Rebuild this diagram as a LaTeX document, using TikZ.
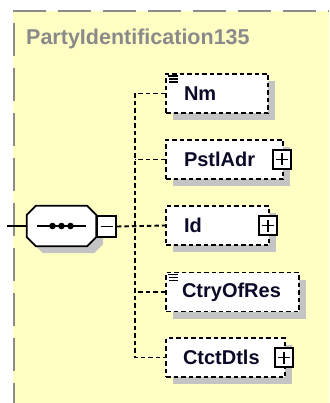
\documentclass[tikz,border=0pt]{standalone}
\usepackage{fontspec}
\setmainfont{Liberation Sans}
\usetikzlibrary{calc,shadows}
\definecolor{bgyellow}{HTML}{FFFFC4}
\definecolor{bordergray}{HTML}{8C8C8C}
\definecolor{titlegray}{HTML}{8A8A8A}
\definecolor{shadowgray}{HTML}{C4C4C4}
\definecolor{ink}{HTML}{0A0A28}
\begin{document}
\begin{tikzpicture}[x=1pt,y=-1pt,
  elemfont/.style={font=\fontsize{20}{22}\selectfont\bfseries},
  titlefont/.style={font=\fontsize{21.5}{24}\selectfont\bfseries},
  elem/.style={draw=black, fill=white, line width=1.9pt, dash pattern=on 4.5pt off 3pt,
    minimum height=39pt, inner xsep=18pt, inner ysep=0pt, align=left, text=ink, elemfont,
    drop shadow={shadow xshift=7pt,shadow yshift=-7pt,opacity=1,fill=shadowgray,draw=none}},
  conn/.style={draw=black, line width=1.9pt, dash pattern=on 4.5pt off 3pt},
  iconbox/.style={draw=black, fill=white, line width=1.8pt, solid, inner sep=0pt,
    minimum width=18pt, minimum height=19pt},
  iconline/.style={draw=black, line width=1.8pt},
  octagon/.style 2 args={insert path={
    ($(#1.north west)+(9,0)+(#2)$) -- ($(#1.north east)+(-9,0)+(#2)$) --
    ($(#1.north east)+(0,9)+(#2)$) -- ($(#1.south east)+(0,-9)+(#2)$) --
    ($(#1.south east)+(-9,0)+(#2)$) -- ($(#1.south west)+(9,0)+(#2)$) --
    ($(#1.south west)+(0,-9)+(#2)$) -- ($(#1.north west)+(0,9)+(#2)$) -- cycle}},
  listmark/.style={draw=black, line width=1.4pt}
]
\useasboundingbox (0,0) rectangle (329,403);
% background
\fill[bgyellow] (13,11) rectangle (329,403);
\draw[bordergray, line width=2.2pt, dash pattern=on 33pt off 12pt] (13,11) -- (329,11);
\draw[bordergray, line width=2.2pt, dash pattern=on 33pt off 12pt, dash phase=-12pt] (14,11) -- (14,403);
\node[anchor=base west, text=titlegray, titlefont, inner sep=0pt] (title) at (26,45) {PartyIdentification135};

% elements
\node[elem, text width=66pt] (nm) at (217,93.5) {Nm};
\node[elem, text width=81pt] (pstl) at (224.5,159.5) {PstlAdr};
\node[elem, text width=67pt] (id) at (217.5,225.5) {Id};
\node[elem, text width=101pt, inner xsep=16pt] (ctry) at (232.5,292) {CtryOfRes};
\node[elem, text width=85pt, inner xsep=17pt] (ctct) at (225.5,357.5) {CtctDtls};

% list marks
\draw[listmark] ([shift={(3,3)}]nm.north west) -- ++(10,0)
  ([shift={(4,6)}]nm.north west) -- ++(9,0)
  ([shift={(4,9)}]nm.north west) -- ++(9,0);
\draw[listmark] ([shift={(3,3)}]ctry.north west) -- ++(10,0)
  ([shift={(4,6)}]ctry.north west) -- ++(9,0)
  ([shift={(4,9)}]ctry.north west) -- ++(9,0);

% expand icons
\node[iconbox] (pstlplus) at ([xshift=-2pt]pstl.east) {};
\node[iconbox] (idplus) at ([xshift=-2pt]id.east) {};
\node[iconbox] (ctctplus) at ([xshift=-2pt]ctct.east) {};
\foreach \n in {pstlplus,idplus,ctctplus}{
  \draw[iconline] ([xshift=-6pt]\n.center) -- ([xshift=6pt]\n.center)
    ([yshift=-6pt]\n.center) -- ([yshift=6pt]\n.center);
}

% compositor
\node[minimum width=69pt, minimum height=40pt, inner sep=0pt] (comp) at (61.5,226) {};
\path[fill=shadowgray, octagon={comp}{7,7}];
\path[draw=black, fill=white, line width=1.8pt, octagon={comp}{0,0}];
\draw[line width=1.8pt] ([xshift=-24.5pt]comp.center) -- ([xshift=24.5pt]comp.center);
\foreach \dx in {-9,0,9}{
  \fill ([xshift=\dx pt]comp.center) circle (3.3pt);
}
\node[iconbox, minimum width=19pt, minimum height=21pt] (minus) at (106.5,226.5) {};
\draw[iconline] ([xshift=-6pt]minus.center) -- ([xshift=6pt]minus.center);
\coordinate (entry) at (7,226);
\draw[line width=1.8pt] (entry) -- (comp.west);

% connectors
\coordinate (bus) at (135,226);
\draw[conn] (minus.east) -- (id.west);
\draw[conn] (nm.west) -| (bus) |- (ctct.west);
\draw[conn] (pstl.west) -- (pstl.west -| bus);
\draw[conn] (ctry.west) -- (ctry.west -| bus);
\end{tikzpicture}
\end{document}
